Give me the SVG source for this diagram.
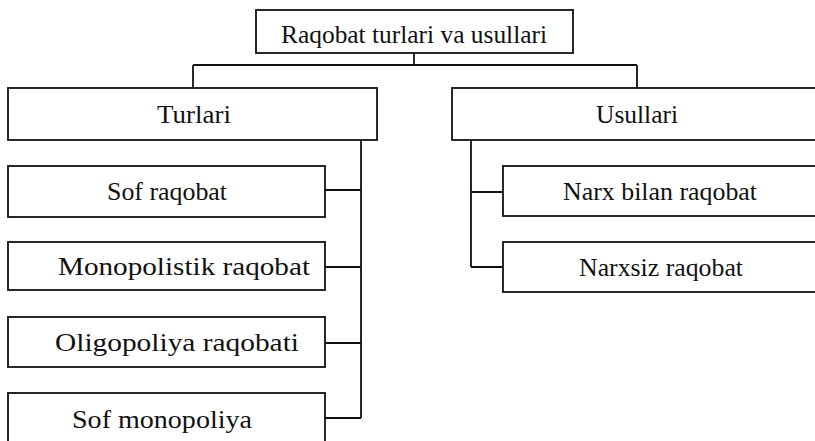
<svg xmlns="http://www.w3.org/2000/svg" width="815" height="441" viewBox="0 0 815 441">
<style>
.box{fill:#fff;stroke:#111;stroke-width:1.8}
.lbl{font-family:'Liberation Serif','DejaVu Serif','Times New Roman',serif;font-size:26px;fill:#111;text-anchor:middle}
.con{fill:none;stroke:#111;stroke-width:1.8}
</style>
<rect width="815" height="441" fill="#fff"/>
<g id="connectors">
<path class="con" d="M414,53 V65 M193,65 H637 M193,65 V88 M637,65 V88"/>
<path class="con" d="M361,140 V418 M325,190 H361 M325,267 H361 M325,343 H361 M325,418 H361"/>
<path class="con" d="M471,140 V267 M471,192 H503 M471,267 H503"/>
</g>
<g id="root"><rect class="box" x="256" y="10" width="317" height="43"/><text class="lbl" x="414" y="43" textLength="266" lengthAdjust="spacingAndGlyphs">Raqobat turlari va usullari</text></g>
<g id="turlari"><rect class="box" x="8" y="88" width="369" height="52"/><text class="lbl" x="194" y="123" textLength="74" lengthAdjust="spacingAndGlyphs">Turlari</text></g>
<g id="usullari"><rect class="box" x="452" y="88" width="380" height="52"/><text class="lbl" x="637" y="123" textLength="82" lengthAdjust="spacingAndGlyphs">Usullari</text></g>
<g id="sof-raqobat"><rect class="box" x="8" y="166" width="317" height="51"/><text class="lbl" x="167" y="200" textLength="120" lengthAdjust="spacingAndGlyphs">Sof raqobat</text></g>
<g id="monopolistik"><rect class="box" x="8" y="242" width="317" height="48"/><text class="lbl" x="184" y="275" textLength="252" lengthAdjust="spacingAndGlyphs">Monopolistik raqobat</text></g>
<g id="oligopoliya"><rect class="box" x="8" y="317" width="317" height="50"/><text class="lbl" x="177" y="351" textLength="244" lengthAdjust="spacingAndGlyphs">Oligopoliya raqobati</text></g>
<g id="sof-monopoliya"><rect class="box" x="8" y="393" width="317" height="70"/><text class="lbl" x="162" y="428" textLength="180" lengthAdjust="spacingAndGlyphs">Sof monopoliya</text></g>
<g id="narx-bilan"><rect class="box" x="503" y="166" width="330" height="50"/><text class="lbl" x="660" y="200" textLength="194" lengthAdjust="spacingAndGlyphs">Narx bilan raqobat</text></g>
<g id="narxsiz"><rect class="box" x="503" y="242" width="330" height="50"/><text class="lbl" x="661" y="276" textLength="164" lengthAdjust="spacingAndGlyphs">Narxsiz raqobat</text></g>
</svg>
